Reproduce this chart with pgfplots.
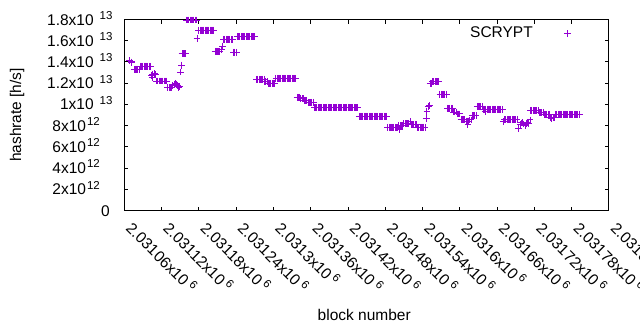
\documentclass[border=0pt]{standalone}
\usepackage{pgfplots}
\pgfplotsset{compat=1.18}
\usepackage{fontspec}
\setmainfont{Liberation Sans}
\definecolor{gpviolet}{RGB}{148,0,211}
\newcommand{\supsz}{\fontsize{11.5}{11.5}\selectfont}
% main part, exponent, gap, trailing space
\newcommand{\ysci}[4]{\makebox[70pt][r]{#1x10\hspace{#3}\raisebox{5.6pt}{\supsz #2}\hspace{#4}}}
\newcommand{\yzero}{\makebox[70pt][r]{0\hspace{2.7pt}}}
\newcommand{\xsci}[1]{#1x10\hspace{3pt}\raisebox{5.6pt}{\supsz 6}}
\newcommand{\lblfont}{\fontsize{15.5}{18}\selectfont}
\begin{document}
\lblfont
\begin{tikzpicture}
\path[use as bounding box] (0pt,0pt) rectangle (640pt,330pt);
\begin{axis}[
  at={(124.3pt,119.5pt)}, anchor=south west,
  width=484.7pt, height=191pt, scale only axis,
  x coord trafo/.code={\edef\pgfmathresult{\fpeval{#1-2031000}}},
  x coord inv trafo/.code={\edef\pgfmathresult{\fpeval{#1+2031000}}},
  xmin=2031060, xmax=2031840, ymin=0, ymax=1.8e13,
  scaled x ticks=false, scaled y ticks=false,
  xtick={2031060,2031120,2031180,2031240,2031300,2031360,2031420,2031480,2031540,2031600,2031660,2031720,2031780,2031840},
  xticklabels={\xsci{2.03106},\xsci{2.03112},\xsci{2.03118},\xsci{2.03124},\xsci{2.0313},\xsci{2.03136},\xsci{2.03142},\xsci{2.03148},\xsci{2.03154},\xsci{2.0316},\xsci{2.03166},\xsci{2.03172},\xsci{2.03178},\xsci{2.03184}},
  ytick={0,2e12,4e12,6e12,8e12,1e13,1.2e13,1.4e13,1.6e13,1.8e13},
  yticklabels={\yzero,\ysci{2}{12}{1pt}{12.7pt},\ysci{4}{12}{1pt}{12.7pt},\ysci{6}{12}{1pt}{12.7pt},\ysci{8}{12}{1pt}{12.7pt},\ysci{1}{13}{6pt}{0pt},\ysci{1.2}{13}{6pt}{0pt},\ysci{1.4}{13}{6pt}{0pt},\ysci{1.6}{13}{6pt}{0pt},\ysci{1.8}{13}{6pt}{0pt}},
  axis line style={black, line width=1pt},
  major tick style={black, line width=1pt}, major tick length=4pt,
  tick align=inside,
  xticklabel style={inner sep=0pt, font=\lblfont, xshift=0.7pt, yshift=-19pt, rotate=-45, anchor=base west},
  yticklabel style={inner sep=0pt, font=\lblfont, anchor=base east, xshift=-11.6pt, yshift=-5.5pt},
  xlabel={block number}, ylabel={hashrate [h/s]},
  every axis x label/.style={at={(axis description cs:0.495,-0.5733)}, anchor=base, font=\lblfont},
  every axis y label/.style={at={(axis description cs:-0.2131,0.5)}, anchor=base, rotate=90, font=\lblfont},
  legend style={draw=none, fill=none, at={(axis description cs:0.9214,0.9262)}, anchor=east, inner sep=0pt, outer sep=0pt, nodes={inner sep=0pt, font=\lblfont}, /tikz/every even column/.append style={column sep=0pt}},
  legend plot pos=right,
  legend image code/.code={\path (0pt,0pt); \draw[#1] plot coordinates {(34.5pt,0pt)};},
]
\addplot[only marks, mark=+, mark size=3.4pt, color=gpviolet, mark options={line width=1pt}] table {
block hashrate
2031069 1.41e13
2031071 1.40e13
2031072 1.395e13
2031076 1.33e13
2031078 1.33e13
2031080 1.33e13
2031082 1.33e13
2031084 1.33e13
2031086 1.36e13
2031088 1.36e13
2031090 1.36e13
2031092 1.36e13
2031094 1.36e13
2031096 1.36e13
2031098 1.36e13
2031100 1.36e13
2031102 1.36e13
2031104 1.27e13
2031105 1.25e13
2031106 1.28e13
2031108 1.29e13
2031110 1.28e13
2031112 1.22e13
2031114 1.22e13
2031116 1.22e13
2031118 1.22e13
2031120 1.22e13
2031122 1.22e13
2031124 1.22e13
2031126 1.22e13
2031128 1.22e13
2031130 1.16e13
2031132 1.16e13
2031134 1.16e13
2031136 1.16e13
2031138 1.18e13
2031140 1.19e13
2031142 1.20e13
2031144 1.19e13
2031146 1.18e13
2031148 1.16e13
2031149 1.17e13
2031151 1.305e13
2031152 1.37e13
2031153 1.48e13
2031155 1.48e13
2031157 1.48e13
2031159 1.48e13
2031160 1.795e13
2031162 1.795e13
2031164 1.795e13
2031166 1.795e13
2031168 1.795e13
2031170 1.795e13
2031172 1.795e13
2031174 1.795e13
2031176 1.795e13
2031177 1.623e13
2031180 1.70e13
2031182 1.70e13
2031184 1.70e13
2031186 1.70e13
2031188 1.70e13
2031190 1.70e13
2031192 1.70e13
2031194 1.70e13
2031196 1.70e13
2031198 1.70e13
2031200 1.70e13
2031202 1.70e13
2031204 1.70e13
2031206 1.50e13
2031208 1.50e13
2031210 1.50e13
2031212 1.50e13
2031214 1.50e13
2031216 1.52e13
2031218 1.55e13
2031220 1.613e13
2031222 1.613e13
2031224 1.613e13
2031226 1.613e13
2031228 1.613e13
2031230 1.613e13
2031232 1.613e13
2031234 1.613e13
2031236 1.49e13
2031238 1.49e13
2031240 1.49e13
2031242 1.638e13
2031244 1.638e13
2031246 1.638e13
2031248 1.638e13
2031250 1.638e13
2031252 1.638e13
2031254 1.638e13
2031256 1.638e13
2031258 1.638e13
2031260 1.638e13
2031262 1.638e13
2031264 1.638e13
2031266 1.638e13
2031268 1.638e13
2031270 1.638e13
2031273 1.236e13
2031275 1.236e13
2031277 1.236e13
2031279 1.236e13
2031281 1.236e13
2031283 1.236e13
2031285 1.236e13
2031286 1.215e13
2031288 1.215e13
2031290 1.215e13
2031292 1.20e13
2031294 1.20e13
2031296 1.20e13
2031298 1.20e13
2031300 1.20e13
2031302 1.20e13
2031304 1.245e13
2031306 1.245e13
2031308 1.245e13
2031310 1.245e13
2031312 1.245e13
2031314 1.245e13
2031316 1.245e13
2031318 1.245e13
2031320 1.245e13
2031322 1.245e13
2031324 1.245e13
2031326 1.245e13
2031328 1.245e13
2031330 1.245e13
2031332 1.245e13
2031334 1.245e13
2031336 1.245e13
2031338 1.067e13
2031340 1.067e13
2031342 1.067e13
2031344 1.053e13
2031346 1.053e13
2031348 1.053e13
2031350 1.035e13
2031352 1.035e13
2031354 1.035e13
2031356 1.02e13
2031358 1.02e13
2031360 1.02e13
2031362 1.02e13
2031364 1.02e13
2031366 9.71e12
2031368 9.71e12
2031370 9.71e12
2031372 9.71e12
2031374 9.71e12
2031376 9.71e12
2031378 9.71e12
2031380 9.71e12
2031382 9.71e12
2031384 9.71e12
2031386 9.71e12
2031388 9.71e12
2031390 9.71e12
2031392 9.71e12
2031394 9.71e12
2031396 9.71e12
2031398 9.71e12
2031400 9.71e12
2031402 9.71e12
2031404 9.71e12
2031406 9.71e12
2031408 9.71e12
2031410 9.71e12
2031412 9.71e12
2031414 9.71e12
2031416 9.71e12
2031418 9.71e12
2031420 9.71e12
2031422 9.71e12
2031424 9.71e12
2031426 9.71e12
2031428 9.71e12
2031430 9.71e12
2031432 9.71e12
2031434 9.71e12
2031436 9.71e12
2031438 8.88e12
2031440 8.88e12
2031442 8.88e12
2031444 8.88e12
2031446 8.88e12
2031448 8.88e12
2031450 8.88e12
2031452 8.88e12
2031454 8.88e12
2031456 8.88e12
2031458 8.88e12
2031460 8.88e12
2031462 8.88e12
2031464 8.88e12
2031466 8.88e12
2031468 8.88e12
2031470 8.88e12
2031472 8.88e12
2031474 8.88e12
2031476 8.88e12
2031478 8.88e12
2031480 8.88e12
2031482 8.88e12
2031484 7.84e12
2031486 7.84e12
2031488 7.84e12
2031490 7.84e12
2031492 7.84e12
2031494 7.84e12
2031496 7.84e12
2031498 7.84e12
2031500 7.84e12
2031502 8.0e12
2031503 7.6e12
2031504 8.0e12
2031506 8.0e12
2031508 8.0e12
2031510 8.2e12
2031512 8.2e12
2031514 8.2e12
2031516 8.2e12
2031518 8.2e12
2031520 8.35e12
2031522 8.07e12
2031524 8.07e12
2031526 8.07e12
2031528 8.07e12
2031530 8.07e12
2031532 7.84e12
2031534 7.84e12
2031536 7.84e12
2031538 7.84e12
2031540 7.84e12
2031542 7.84e12
2031544 7.84e12
2031546 8.7e12
2031547 9.35e12
2031549 9.8e12
2031551 9.9e12
2031552 1.20e13
2031554 1.20e13
2031556 1.215e13
2031558 1.215e13
2031560 1.215e13
2031562 1.215e13
2031564 1.215e13
2031566 1.215e13
2031568 1.095e13
2031570 1.095e13
2031572 1.095e13
2031574 1.095e13
2031576 1.095e13
2031578 1.095e13
2031580 9.63e12
2031582 9.63e12
2031584 9.63e12
2031586 9.63e12
2031588 9.63e12
2031590 9.28e12
2031592 9.28e12
2031594 9.28e12
2031596 9.1e12
2031598 9.1e12
2031600 9.1e12
2031602 8.56e12
2031604 8.56e12
2031606 8.56e12
2031608 8.56e12
2031610 8.43e12
2031612 8.43e12
2031613 8.06e12
2031614 8.43e12
2031616 8.53e12
2031618 8.53e12
2031620 8.95e12
2031622 8.95e12
2031624 8.95e12
2031626 8.95e12
2031628 9.8e12
2031630 9.8e12
2031632 9.8e12
2031634 9.8e12
2031636 9.8e12
2031638 9.54e12
2031640 9.54e12
2031641 9.3e12
2031642 9.54e12
2031644 9.54e12
2031646 9.54e12
2031648 9.54e12
2031650 9.54e12
2031652 9.54e12
2031654 9.54e12
2031656 9.54e12
2031658 9.54e12
2031660 9.54e12
2031662 9.54e12
2031664 9.54e12
2031666 9.54e12
2031668 9.54e12
2031670 8.37e12
2031672 8.56e12
2031674 8.56e12
2031676 8.56e12
2031678 8.56e12
2031680 8.56e12
2031682 8.56e12
2031684 8.56e12
2031686 8.56e12
2031688 8.56e12
2031690 8.56e12
2031692 8.56e12
2031695 7.75e12
2031697 8.1e12
2031699 8.25e12
2031701 8.3e12
2031703 8.15e12
2031705 8.0e12
2031707 8.2e12
2031709 8.3e12
2031711 8.2e12
2031713 8.53e12
2031714 9.42e12
2031716 9.42e12
2031718 9.42e12
2031720 9.42e12
2031722 9.42e12
2031724 9.42e12
2031726 9.42e12
2031728 9.22e12
2031730 9.22e12
2031732 9.22e12
2031734 9.22e12
2031736 9.07e12
2031738 9.07e12
2031740 9.07e12
2031742 9.07e12
2031744 9.07e12
2031746 8.75e12
2031748 8.65e12
2031750 8.75e12
2031752 8.75e12
2031754 9.07e12
2031756 9.07e12
2031758 9.07e12
2031760 9.07e12
2031762 9.07e12
2031764 9.07e12
2031766 9.07e12
2031768 9.07e12
2031770 9.07e12
2031772 9.07e12
2031774 9.07e12
2031776 9.07e12
2031778 9.07e12
2031780 9.07e12
2031782 9.07e12
2031784 9.07e12
2031786 9.07e12
2031788 9.07e12
2031790 9.07e12
2031792 9.07e12
};
\addlegendentry{SCRYPT}
\end{axis}
\end{tikzpicture}
\end{document}
